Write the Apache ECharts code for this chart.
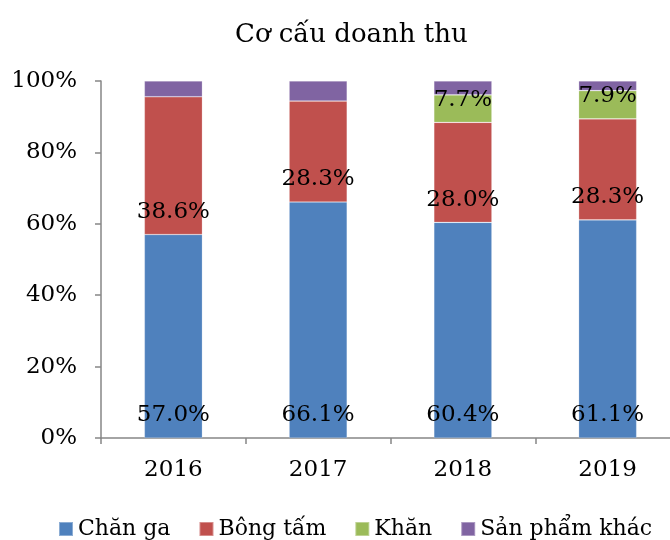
<!DOCTYPE html>
<html>
<head>
<meta charset="utf-8">
<script src="https://cdn.jsdelivr.net/npm/echarts@6/dist/echarts.min.js"></script>
<style>
  html, body { margin: 0; padding: 0; background: #fff; overflow: hidden; }
  /* plot runs past the right edge in the reference, so the canvas is a bit wider than the window */
  #chart { width: 700px; height: 540px; }
</style>
</head>
<body>
<div id="chart"></div>
<script>
// data
const years = ['2016', '2017', '2018', '2019']
const chanGa = [57.0, 66.1, 60.4, 61.1]
const bongTam = [38.6, 28.3, 28.0, 28.3]
const khan = [0, 0, 7.7, 7.9]
const sanPhamKhac = [4.4, 5.6, 3.9, 2.7]
const yTicks = [0, 20, 40, 60, 80, 100]

const font = 'DejaVu Serif'
const colors = ['#4F81BD', '#C0504D', '#9BBB59', '#8064A2']

const chart = echarts.init(document.getElementById('chart'))

function barSeries(name, values, showLabel) {
  return {
    name: name,
    type: 'bar',
    stack: 'total',
    barWidth: 58,
    data: values,
    itemStyle: { borderColor: 'rgba(255,255,255,0.35)', borderWidth: 0.6 },
    label: {
      show: showLabel,
      position: 'insideBottom',
      distance: 11,
      color: '#000',
      fontFamily: font,
      fontSize: 23,
      formatter: p => (p.value > 0 ? p.value.toFixed(1) + '%' : '')
    }
  }
}

chart.setOption({
  animation: false,
  color: colors,
  title: {
    text: 'Cơ cấu doanh thu',
    left: 230,
    top: 17,
    textStyle: { fontFamily: font, fontSize: 26, fontWeight: 'normal', color: '#000' }
  },
  legend: {
    data: ['Chăn ga', 'Bông tấm', 'Khăn', 'Sản phẩm khác'],
    left: 58,
    top: 518,
    width: 640,
    padding: 0,
    icon: 'rect',
    itemWidth: 14,
    itemHeight: 14,
    itemGap: 28,
    textStyle: { fontFamily: font, fontSize: 22, color: '#000' }
  },
  grid: {
    left: 101,
    top: 81,
    width: 579,
    height: 357
  },
  xAxis: {
    type: 'category',
    data: years,
    axisLine: { lineStyle: { color: '#868686', width: 1.5 } },
    axisTick: { show: true, length: 6, lineStyle: { color: '#868686', width: 1.5 } },
    axisLabel: { margin: 21, color: '#000', fontFamily: font, fontSize: 23 }
  },
  yAxis: {
    type: 'value',
    min: yTicks[0],
    max: yTicks[yTicks.length - 1],
    interval: 20,
    splitLine: { show: false },
    axisLine: { show: true, lineStyle: { color: '#868686', width: 1.5 } },
    axisTick: { show: true, length: 6, lineStyle: { color: '#868686', width: 1.5 } },
    axisLabel: { margin: 24, color: '#000', fontFamily: font, fontSize: 23, formatter: '{value}%' }
  },
  series: [
    barSeries('Chăn ga', chanGa, true),
    barSeries('Bông tấm', bongTam, true),
    barSeries('Khăn', khan, true),
    barSeries('Sản phẩm khác', sanPhamKhac, false)
  ]
})
</script>
</body>
</html>
